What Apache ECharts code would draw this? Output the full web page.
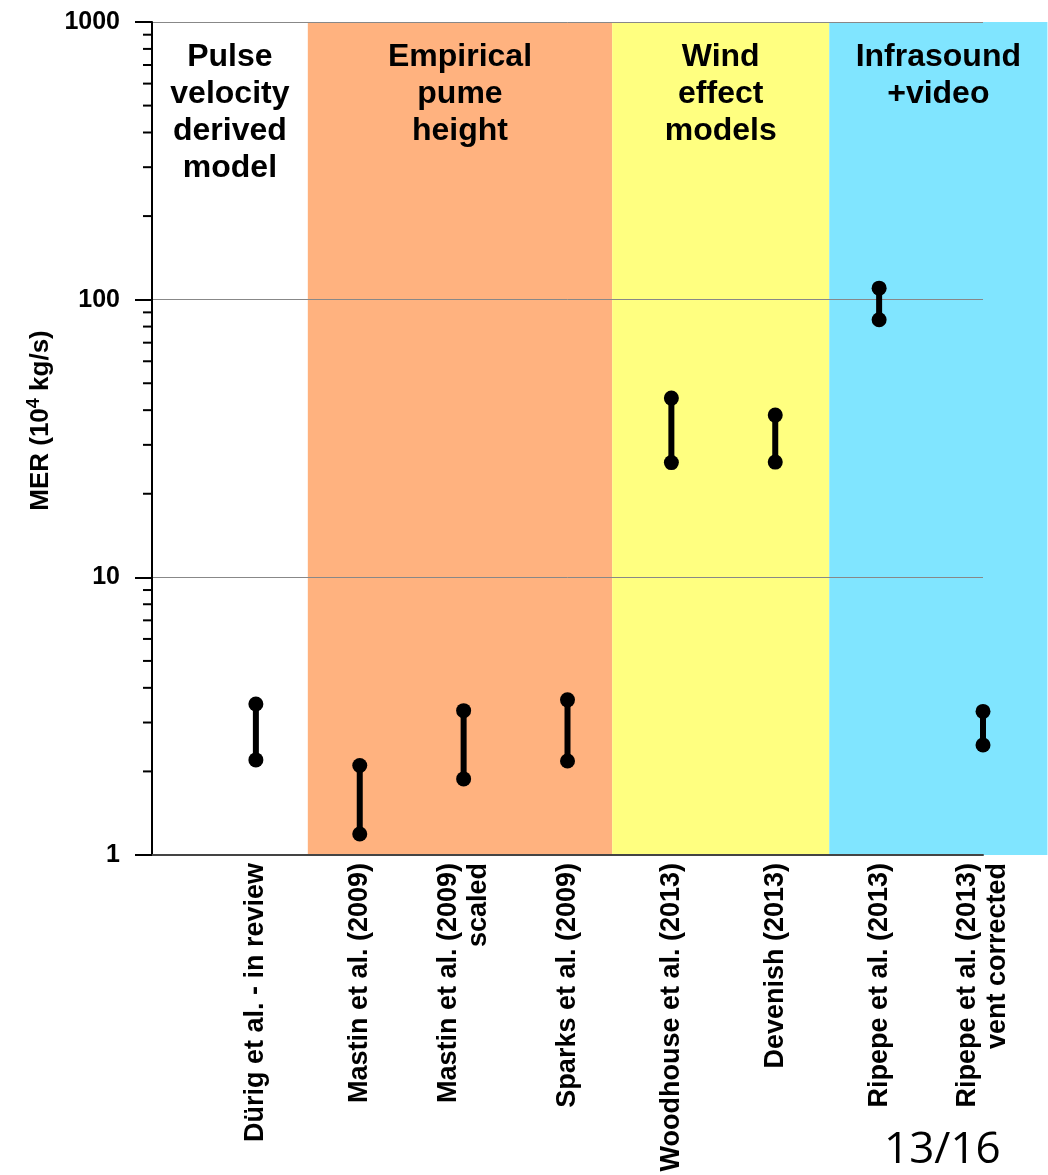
<!DOCTYPE html>
<html>
<head>
<meta charset="utf-8">
<script src="https://cdn.jsdelivr.net/npm/echarts@6/dist/echarts.min.js"></script>
<style>
  html, body { margin: 0; padding: 0; background: #fff; }
  #chart { width: 1048px; height: 1175px; }
</style>
</head>
<body>
<div id="chart"></div>
<script>
// categories (placed at x = 1..8 on a 0..8 value axis)
var categories = [
  "Dürig et al. - in review",
  "Mastin et al. (2009)",
  "Mastin et al. (2009)\nscaled",
  "Sparks et al. (2009)",
  "Woodhouse et al. (2013)",
  "Devenish (2013)",
  "Ripepe et al. (2013)",
  "Ripepe et al. (2013)\nvent corrected"
];
// MER range, 10^4 kg/s
var merLow  = [2.2, 1.19, 1.88, 2.18, 25.9, 26, 84.7, 2.49];
var merHigh = [3.5, 2.1, 3.31, 3.62, 44.2, 38.4, 110, 3.29];

// method groups shown as background bands
var bandNames = [
  "Pulse\nvelocity\nderived\nmodel",
  "Empirical\npume\nheight",
  "Wind\neffect\nmodels",
  "Infrasound\n+video"
];
var bandStart = [0, 1.5, 4.43, 6.52];
var bandEnd   = [1.5, 4.43, 6.52, 8.62];
var bandColors = ["#ffffff", "#ffb27f", "#ffff80", "#80e5ff"];

var minorTicks = [2, 3, 4, 5, 6, 7, 8, 9, 20, 30, 40, 50, 60, 70, 80, 90, 200, 300, 400, 500, 600, 700, 800, 900];

var myChart = echarts.init(document.getElementById("chart"));

var bandData = bandNames.map(function (n, i) { return [bandStart[i], bandEnd[i], i]; });
var barData = categories.map(function (c, i) { return [i + 1, merLow[i], merHigh[i]]; });
var minorData = minorTicks.map(function (v) { return [0, v]; });

var FONT = "Liberation Sans, Arial, sans-serif";

var option = {
  backgroundColor: "#fff",
  animation: false,
  grid: { left: 152, right: 65, top: 22, bottom: 320 },
  xAxis: {
    type: "value",
    min: 0,
    max: 8,
    interval: 1,
    z: 3,
    splitLine: { show: false },
    axisTick: { show: false },
    axisLine: { lineStyle: { color: "#444", width: 2 } },
    axisLabel: {
      rotate: 90,
      margin: 8,
      fontFamily: FONT,
      fontWeight: "bold",
      fontSize: 27,
      lineHeight: 30,
      color: "#000",
      formatter: function (v) { return categories[v - 1] || ""; }
    }
  },
  yAxis: {
    type: "log",
    logBase: 10,
    min: 1,
    max: 1000,
    z: 3,
    name: "{main|MER (10}{sup|4}{main| kg/s)}",
    nameLocation: "middle",
    nameGap: 96,
    nameRotate: 90,
    nameTextStyle: {
      color: "#000",
      padding: [0, 0, 0, 36],
      rich: {
        main: { fontFamily: FONT, fontWeight: "bold", fontSize: 26, color: "#000", lineHeight: 30 },
        sup: { fontFamily: FONT, fontWeight: "bold", fontSize: 18, verticalAlign: "top", color: "#000", lineHeight: 30 }
      }
    },
    axisLine: { show: true, lineStyle: { color: "#000", width: 2 } },
    axisTick: { show: true, inside: false, length: 17, lineStyle: { color: "#000", width: 2 } },
    splitLine: { show: true, lineStyle: { color: "#888", width: 1 } },
    axisLabel: {
      margin: 32,
      fontFamily: FONT,
      fontWeight: "bold",
      fontSize: 25,
      color: "#000",
      formatter: function (v) { return String(v); }
    }
  },
  series: [
    {
      // background bands with their titles
      type: "custom",
      z: 1,
      clip: false,
      silent: true,
      data: bandData,
      renderItem: function (params, api) {
        var i = api.value(2);
        var p0 = api.coord([api.value(0), 1000]);
        var p1 = api.coord([api.value(1), 1]);
        return {
          type: "group",
          children: [
            {
              type: "rect",
              shape: { x: p0[0], y: p0[1], width: p1[0] - p0[0], height: p1[1] - p0[1] },
              style: { fill: bandColors[i] }
            },
            {
              type: "text",
              z2: 10,
              style: {
                x: (p0[0] + p1[0]) / 2,
                y: p0[1] + 17,
                text: bandNames[i],
                fill: "#000",
                font: "bold 32px 'Liberation Sans', Arial, sans-serif",
                lineHeight: 37,
                align: "center",
                verticalAlign: "top"
              }
            }
          ]
        };
      }
    },
    {
      // minor log ticks on the y axis
      type: "custom",
      z: 5,
      clip: false,
      silent: true,
      data: minorData,
      renderItem: function (params, api) {
        var p = api.coord([0, api.value(1)]);
        return {
          type: "line",
          shape: { x1: p[0] - 9, y1: p[1], x2: p[0], y2: p[1] },
          style: { stroke: "#000", lineWidth: 2 }
        };
      }
    },
    {
      // MER ranges
      type: "custom",
      z: 5,
      clip: false,
      data: barData,
      renderItem: function (params, api) {
        var lo = api.coord([api.value(0), api.value(1)]);
        var hi = api.coord([api.value(0), api.value(2)]);
        return {
          type: "group",
          children: [
            { type: "line", shape: { x1: lo[0], y1: lo[1], x2: hi[0], y2: hi[1] }, style: { stroke: "#000", lineWidth: 6 } },
            { type: "circle", shape: { cx: lo[0], cy: lo[1], r: 7.5 }, style: { fill: "#000" } },
            { type: "circle", shape: { cx: hi[0], cy: hi[1], r: 7.5 }, style: { fill: "#000" } }
          ]
        };
      }
    }
  ],
  graphic: [
    {
      type: "text",
      left: 884,
      top: 1128,
      style: {
        text: "13/16",
        font: "44px 'Open Sans', sans-serif",
        fill: "#000"
      }
    }
  ]
};

myChart.setOption(option);
window.addEventListener("resize", function () { myChart.resize(); });
</script>
</body>
</html>
